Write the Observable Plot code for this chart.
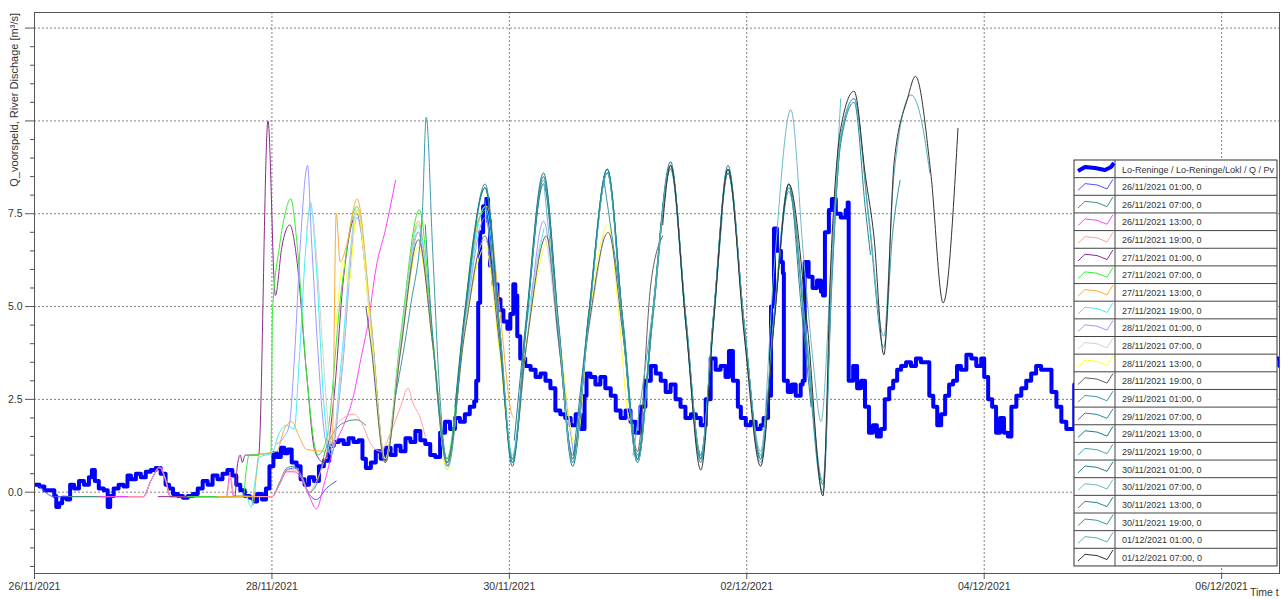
<!DOCTYPE html>
<html><head><meta charset="utf-8">
<script src="https://cdn.jsdelivr.net/npm/d3@7"></script>
<script src="https://cdn.jsdelivr.net/npm/@observablehq/plot@0.6"></script>
<style>
body{margin:0;background:#fff;}
#chart svg{display:block;}
</style></head><body><div id="chart"></div>
<script>
// time origin: 26/11/2021 00:00 ; all times below are hours after it
const T0 = Date.UTC(2021, 10, 26, 0, 0);

const obsName = "Lo-Reninge / Lo-Reninge/Lokl / Q / Pv";
const obs = [[0,0.2],[1,0.15],[2,0.05],[3,0.05],[4,-0.1],[4.4,-0.4],[5,-0.3],[5.6,-0.15],[6.5,-0.2],[7.2,0.2],[8,0.1],[9,0.3],[10,0.2],[11,0.4],[11.6,0.6],[12.2,0.3],[13,0.1],[14,0.05],[14.8,-0.4],[15.3,-0.1],[16,0.1],[17,0.2],[18,0.15],[18.8,0.45],[19.5,0.35],[20.5,0.5],[21.5,0.4],[22.5,0.55],[23.5,0.6],[24.5,0.65],[25.5,0.5],[26.5,0.2],[27.2,0.1],[28,-0.05],[29,-0.1],[30,-0.15],[31,-0.1],[32,-0.05],[33,0.1],[34,0.3],[35,0.2],[36,0.45],[37,0.35],[38,0.5],[39,0.6],[40,0.45],[40.8,0.2],[41.6,0.05],[42.5,-0.1],[43.5,-0.15],[44.3,-0.25],[45,-0.05],[46,-0.2],[46.8,0.1],[47.5,0.7],[48.3,1.05],[49,0.95],[49.8,1.2],[50.5,1.05],[51.2,1.15],[52,0.8],[53,0.7],[53.8,0.35],[54.6,0.2],[55.5,0.4],[56.5,0.3],[57.5,0.7],[58.5,0.85],[59.6,1.25],[60.5,1.35],[61.5,1.4],[62.5,1.3],[63.5,1.45],[64.5,1.35],[65.5,1.4],[66.3,0.9],[67,0.65],[68,0.8],[69,1.1],[70,0.9],[71,1.2],[72,1.0],[73,1.25],[74,1.1],[75,1.45],[76,1.35],[77,1.65],[78,1.4],[79,1.3],[80,1.0],[81,0.95],[82,1.6],[83,1.9],[84,1.7],[85,2.0],[86,1.9],[87,2.1],[88,2.3],[88.9,2.45],[89.3,3.0],[89.7,5.1],[90.1,7.0],[90.7,7.7],[91.3,7.9],[91.7,7.3],[92.1,6.1],[92.8,5.6],[93.6,5.2],[94.2,4.9],[94.8,4.6],[95.6,4.4],[96.2,4.8],[96.8,5.6],[97.2,5.3],[97.6,4.2],[98.2,3.6],[99.2,3.4],[100.3,3.3],[101.3,3.1],[102.3,3.2],[103.3,3.0],[104.3,2.8],[105.3,2.2],[106.3,2.1],[107.3,2.0],[108.4,1.8],[109.4,2.1],[110.4,1.7],[111.2,2.6],[111.6,3.2],[112.4,3.1],[113.4,2.9],[114.4,3.1],[115.4,2.8],[116.5,2.6],[117.5,2.2],[118.5,2.0],[119.5,2.2],[120.5,1.9],[121.5,1.6],[122.5,2.3],[123.5,3.0],[124.6,3.4],[125.6,3.2],[126.6,3.0],[127.6,2.7],[128.6,2.9],[129.6,2.5],[130.6,2.3],[131.6,2.0],[132.7,2.1],[133.7,2.0],[134.7,1.8],[135.7,2.5],[136.7,3.6],[137.7,3.3],[138.7,3.4],[139.7,3.1],[140.4,3.8],[141.2,3.0],[142.2,2.3],[142.8,2.0],[143.8,1.8],[144.8,1.9],[145.8,1.7],[146.8,1.8],[147.4,2.0],[148.3,2.6],[148.9,5.0],[149.5,7.1],[150.1,6.5],[150.9,6.2],[151.3,5.9],[151.5,3.0],[152.3,2.7],[153.1,2.9],[153.9,2.6],[154.9,2.9],[155.3,3.0],[155.7,6.2],[156.5,5.8],[157.3,5.5],[158.2,5.7],[159.0,5.4],[159.4,5.3],[159.8,7.0],[160.6,7.6],[161.2,7.9],[162.0,7.5],[163.0,7.4],[164.0,7.6],[164.4,7.8],[164.6,3.0],[165.5,3.4],[166.3,2.8],[167.1,3.0],[167.9,2.3],[168.7,1.6],[169.5,1.8],[170.3,1.5],[171.1,1.7],[171.9,2.5],[172.8,2.8],[173.6,3.0],[174.4,3.3],[175.2,3.4],[176.2,3.5],[177.2,3.4],[178.2,3.6],[179.2,3.5],[180.0,3.5],[180.9,2.6],[181.7,2.3],[182.5,1.8],[183.3,2.1],[184.1,2.6],[184.9,2.9],[185.7,3.0],[186.5,3.4],[187.3,3.3],[188.4,3.7],[189.4,3.6],[190.4,3.4],[191.4,3.6],[192.0,3.1],[192.8,2.5],[193.6,2.3],[194.4,1.6],[195.2,2.0],[196.0,1.6],[196.8,1.5],[197.5,2.3],[198.5,2.6],[199.5,2.8],[200.5,3.0],[201.5,3.2],[202.5,3.4],[203.5,3.3],[204.6,3.3],[205.6,2.7],[206.6,2.3],[207.6,1.9],[208.6,1.7],[209.4,1.7],[210.2,2.9],[211,3.0],[214,3.2],[218,3.1],[222,2.4],[226,2.0],[230,2.6],[234,3.2],[238,3.4],[242,2.8],[246,2.3],[249,2.9],[250.5,3.6],[251.7,3.4]];

const seriesNames = ["26/11/2021 01:00, 0","26/11/2021 07:00, 0","26/11/2021 13:00, 0","26/11/2021 19:00, 0","27/11/2021 01:00, 0","27/11/2021 07:00, 0","27/11/2021 13:00, 0","27/11/2021 19:00, 0","28/11/2021 01:00, 0","28/11/2021 07:00, 0","28/11/2021 13:00, 0","28/11/2021 19:00, 0","29/11/2021 01:00, 0","29/11/2021 07:00, 0","29/11/2021 13:00, 0","29/11/2021 19:00, 0","30/11/2021 01:00, 0","30/11/2021 07:00, 0","30/11/2021 13:00, 0","30/11/2021 19:00, 0","01/12/2021 01:00, 0","01/12/2021 07:00, 0"];
const seriesColors = ["#5050ff","#3a9a6a","#ff40ff","#ffa0a0","#8b2d8b","#33ee33","#ffaa33","#40f0f0","#9a9aff","#d0d0d0","#ffff33","#606060","#3a9aaa","#2a8c9c","#1c7c8c","#4ea5b3","#247f8f","#6cbac6","#1d8898","#3396a6","#5aaebb","#303030"];

const f2611_01 = [[1,0.15],[4,-0.12],[22,-0.12],[23.5,0.3],[25.3,0.65],[26.5,0.35],[27.5,-0.12],[48,-0.12],[49.5,0.2],[51,0.6],[52.5,0.65],[54,0.45],[55.5,-0.05],[57,-0.2],[59,0.1],[61,0.3]];
const f2611_07 = [[7,-0.12],[22,-0.12],[23.5,0.3],[25.3,0.68],[26.5,0.35],[27.5,-0.12],[48,-0.12],[49.5,0.25],[51,0.65],[52.5,0.7],[54,0.45],[55.5,0.0],[57,0.2],[59,1.2],[61,1.7],[63,1.9],[65,1.95],[67,1.8]];
const f2611_13 = [[13,-0.12],[22,-0.12],[23.5,0.3],[25.3,0.65],[26.5,0.3],[27.5,-0.12],[38.8,-0.12],[39.5,0.5],[40.2,-0.1],[48,-0.12],[49.5,0.2],[51,0.55],[52.5,0.55],[54,0.35],[55.5,-0.1],[57,-0.45],[58.5,0.2],[60.5,1.2],[62.5,1.8],[64.5,2.6],[66,3.6],[67.5,4.6],[69,6.0],[71,7.1],[73,8.4]];
const f2611_19 = [[19,-0.12],[22,-0.12],[23.5,0.3],[25.3,0.68],[26.5,0.35],[27.5,-0.12],[38.8,-0.12],[39.6,0.4],[40.4,-0.1],[48,-0.12],[49.5,0.2],[51,0.6],[52.5,0.6],[54,0.4],[55.5,0.0],[57,0.3],[59,1.0],[61,1.8],[62.5,2.0],[64.5,2.1],[66,1.9],[68,1.3],[70,1.1],[72,1.6],[74,2.3],[75.5,2.8],[76.5,2.4],[78,2.0],[79,1.5]];
const f2711_01 = [[25,-0.12],[40.5,-0.12],[41,0.7],[41.6,1.0],[42,0.8],[42.6,1.0],[45.3,1.0],[47.2,10.0],[48.7,5.3],[50,6.6],[51.6,7.2],[53,6.3],[55,3.2],[56.7,1.1],[58.5,0.8],[60.5,2.5],[62.5,5.8],[65.2,7.5],[68,4.5],[70.9,0.8],[74,4.0],[77.6,7.0],[80.5,4.0],[83.4,0.9],[85,1.8]];
const f2711_07 = [[31,-0.12],[42.2,-0.12],[42.8,0.6],[43.4,1.0],[47.8,1.05],[48.1,4.8],[49.5,6.6],[50.5,7.4],[51.8,7.9],[53,6.8],[55,3.2],[57.3,1.0],[59,1.4],[62,5.4],[65.2,7.7],[68,4.6],[70.9,0.9],[74,4.2],[77.8,7.6],[80.5,4.2],[83.4,0.9],[86,3.5],[89,7.0],[91,7.6]];
const f2711_13 = [[37,-0.12],[44,-0.12],[44.2,-0.35],[44.8,0.4],[45.3,1.0],[49,1.1],[50.5,1.7],[52,1.9],[53.5,1.5],[55,1.15],[59.5,1.1],[60.2,1.3],[61,7.5],[61.8,6.2],[63,6.6],[65.2,7.9],[68,4.7],[70.9,0.9],[74,4.0],[77.6,7.3],[80.5,4.0],[83.4,0.7],[87,4.8],[90.5,7.6],[91.5,7.7],[94,5.0],[96.5,2.1],[97,2.0]];
const f2711_19 = [[43,-0.12],[43.8,-0.4],[44.6,0.3],[45.5,0.95],[48,1.05],[49.5,1.6],[51,1.8],[52.5,1.7],[53.5,3.5],[54.8,6.5],[55.8,7.8],[57,6.0],[58.6,2.2],[60,1.0],[62,3.5],[65.2,7.6],[68,4.5],[70.9,0.8],[74,4.0],[77.6,7.2],[80.5,4.0],[83.4,0.6],[87,4.6],[91.1,7.7],[94,4.5],[96.6,1.0],[99.5,4.5],[103,7.1]];
const f2811_01 = [[49,1.3],[50.5,1.5],[51.5,1.8],[52.5,3.5],[53.8,6.8],[55.2,8.8],[56,6.8],[57.3,3.8],[58.7,1.5],[60,1.0],[62,3.0],[65.2,7.4],[68,4.5],[70.9,0.8],[74,3.8],[77.6,7.0],[80.5,4.0],[83.4,0.7],[87,4.5],[91.1,7.4],[94,4.2],[96.6,0.9],[99.5,4.0],[102.9,7.3],[106,4.0],[109,1.0]];
const f2811_07 = [[55,7.1],[56,7.6],[57,6.4],[58.5,3.4],[60,1.2],[62,3.2],[65.2,7.7],[68,4.5],[70.9,0.9],[74,4.0],[77.6,7.0],[80.5,4.0],[83.4,0.8],[87,4.5],[91.1,6.8],[94,4.0],[96.6,0.9],[99.5,4.0],[102.9,6.9],[106,4.0],[108.8,0.9],[111,3.4],[113.5,5.6],[115,6.9]];
const f2811_13 = [[61,4.5],[62.5,6.2],[63.5,5.6],[65.2,7.6],[68,4.3],[70.9,0.8],[74,3.8],[77.6,6.6],[80.5,4.0],[83.4,0.6],[87,4.3],[91.1,6.6],[94,3.8],[96.6,0.9],[99.5,4.0],[104,6.8],[106.5,3.8],[109.5,1.2],[112,4.5],[116,7.2],[118,5.0],[120,2.1],[121,1.8]];
const f2811_19 = [[67,5.0],[68,4.0],[70.9,0.8],[74,3.8],[77.6,6.8],[80.5,4.0],[83.4,0.8],[87,4.3],[91.1,6.9],[94,4.0],[96.6,0.9],[99.5,4.0],[103.5,6.9],[106,4.0],[108.8,1.0],[112,4.4],[116,7.0],[119,4.2],[121.9,1.1],[124.6,5.6],[127,6.9]];
const f2911_01 = [[73,2.6],[76,5.0],[78.4,7.5],[79.2,10.1],[80.5,6.5],[82,2.5],[83.6,0.7],[87,4.7],[91.1,8.2],[94,4.4],[96.6,0.8],[99.5,4.6],[102.9,8.4],[106,4.3],[108.8,0.8],[112,4.6],[115.8,8.6],[119,4.4],[121.9,0.9],[125,4.7],[128.6,8.8],[131.7,4.5],[133,2.6]];
const f2911_07 = [[79,7.2],[80.5,4.2],[83.4,0.8],[87,4.8],[91.1,8.3],[94,4.5],[96.6,0.8],[99.5,4.7],[102.9,8.5],[106,4.4],[108.8,0.8],[112,4.7],[115.8,8.7],[119,4.5],[121.9,0.8],[125,4.8],[128.6,8.8],[131.7,4.6],[134.7,0.9],[137.3,4.7],[139,7.4]];
const f2911_13 = [[85,2.3],[87,4.9],[91.1,8.2],[94,4.3],[96.6,0.7],[99.5,4.6],[102.9,8.3],[106,4.2],[108.8,0.7],[112,4.6],[115.8,8.6],[119,4.3],[121.9,0.8],[125,4.7],[128.6,8.7],[131.7,4.5],[134.7,0.8],[137.3,4.6],[140.2,8.6],[143.5,4.3],[145,2.4]];
const f2911_19 = [[91,7.9],[94,4.5],[96.6,0.9],[99.5,4.7],[102.9,8.5],[106,4.4],[108.8,0.9],[112,4.7],[115.8,8.6],[119,4.5],[121.9,0.9],[125,4.8],[128.6,8.8],[131.7,4.6],[134.7,0.9],[137.3,4.7],[140.2,8.7],[143.5,4.4],[146.8,0.8],[149.5,4.6],[151,6.8]];
const f3011_01 = [[97,1.4],[99.5,4.8],[102.9,8.6],[106,4.5],[108.8,0.9],[112,4.8],[115.8,8.7],[119,4.5],[121.9,0.9],[125,4.9],[128.6,8.9],[131.7,4.6],[134.7,1.0],[137.3,4.8],[140.2,8.8],[143.5,4.5],[146.8,0.9],[149.5,4.7],[152.5,8.3],[155,5.0],[157,2.3]];
const f3011_07 = [[103,8.3],[106,4.3],[108.8,0.8],[112,4.6],[115.8,8.6],[119,4.4],[121.9,0.8],[125,4.7],[128.6,8.8],[131.7,4.5],[134.7,0.8],[137.3,4.7],[140.2,8.7],[143.5,4.5],[146.8,1.1],[149.5,6.0],[152.9,10.3],[155.5,6.3],[157.5,3.4],[159,1.9],[161,6.0],[163,10.6]];
const f3011_13 = [[109,1.0],[112,4.7],[115.8,8.7],[119,4.5],[121.9,0.9],[125,4.8],[128.6,8.8],[131.7,4.6],[134.7,0.9],[137.3,4.8],[140.2,8.7],[143.5,4.5],[146.8,0.9],[149.5,4.6],[152.5,8.2],[156,4.2],[159.4,0.2],[161.2,5.8],[163,9.4],[165.7,10.5],[168,7.6],[169,6.4]];
const f3011_19 = [[115,8.5],[119,4.6],[121.9,1.0],[125,4.9],[128.6,8.8],[131.7,4.7],[134.7,1.0],[137.3,4.8],[140.2,8.6],[143.5,4.5],[146.8,0.9],[149.5,4.6],[152.5,8.1],[156,4.0],[159.4,0.0],[161.2,5.6],[163,9.5],[165.7,10.6],[168.7,7.3],[171.7,3.9],[173.5,7.0],[175,8.4]];
const f0112_01 = [[121,1.0],[125,4.9],[128.6,8.8],[131.7,4.7],[134.7,1.0],[137.3,4.8],[140.2,8.7],[143.5,4.5],[146.8,1.0],[149.5,4.8],[152.5,8.3],[156,4.3],[159.4,0.3],[161.2,6.0],[163,9.6],[165.7,10.6],[168.7,7.4],[171.7,4.2],[173.8,8.6],[177.2,10.7],[179,10.2],[181,8.6]];
const f0112_07 = [[127,7.2],[128.6,8.8],[131.7,4.5],[134.7,0.6],[137.3,4.6],[140.2,8.7],[143.5,4.2],[146.8,0.7],[149.5,4.5],[152.5,8.3],[156.3,4.4],[159.4,-0.1],[161,6.2],[163,9.8],[165.7,10.8],[168,8.5],[169.7,6.9],[171.7,3.7],[173.8,8.9],[176.5,10.6],[178.1,11.2],[181.2,8.6],[183.7,5.1],[186.7,9.8]];

const forecasts = [f2611_01,f2611_07,f2611_13,f2611_19,f2711_01,f2711_07,f2711_13,f2711_19,f2811_01,f2811_07,f2811_13,f2811_19,f2911_01,f2911_07,f2911_13,f2911_19,f3011_01,f3011_07,f3011_13,f3011_19,f0112_01,f0112_07];

const xTickHours = [0,48,96,144,192,240];
const xGridHours = [48,96,144,192,240];
const yMajor = [0,2.5,5,7.5,10,12.5];
const yLabelled = [0,2.5,5,7.5];
const yMinor = [-2,-1.5,-1,-0.5,0.5,1,1.5,2,3,3.5,4,4.5,5.5,6,6.5,7,8,8.5,9,9.5,10.5,11,11.5,12];
const yTitle = "Q_voorspeld, River Dischage [m³/s]";
const xTitle = "Time t";

const toDate = h => new Date(T0 + h * 3600e3);
const obsRows = obs.map(([h, v]) => ({t: toDate(h), v}));
const fcRows = [];
forecasts.forEach((arr, i) => arr.forEach(([h, v]) => fcRows.push({t: toDate(h), v, s: seriesNames[i]})));
const fmtDate = d3.utcFormat("%d/%m/%Y");

const chart = Plot.plot({
  width: 1282, height: 599,
  marginLeft: 34, marginRight: 3, marginTop: 12, marginBottom: 26,
  style: {fontFamily: "'Liberation Sans', Arial, sans-serif", fontSize: "10.5px", color: "#333", background: "#fff", overflow: "visible"},
  x: {type: "utc", domain: [toDate(0), toDate(251.7)], label: null},
  y: {domain: [-2.19, 12.92], label: null},
  color: {domain: seriesNames, range: seriesColors},
  marks: [
    Plot.gridY(yMajor, {stroke: "#808080", strokeOpacity: 1, strokeDasharray: "2,2"}),
    Plot.gridX(xGridHours.map(toDate), {stroke: "#808080", strokeOpacity: 1, strokeDasharray: "2,2"}),
    Plot.line(obsRows, {x: "t", y: "v", stroke: "#0000ff", strokeWidth: 4, strokeLinejoin: "round", curve: "step-after", clip: true}),
    Plot.line(fcRows, {x: "t", y: "v", z: "s", stroke: "s", strokeWidth: 1, curve: "monotone-x", clip: true}),
    Plot.frame({stroke: "#555"}),
    Plot.axisY(yMinor, {tickSize: 4, tickFormat: () => "", stroke: "#555", label: null}),
    Plot.axisY(yMajor, {tickSize: 9, tickPadding: 3, stroke: "#555", label: null,
      tickFormat: d => yLabelled.includes(d) ? d.toFixed(1) : ""}),
    Plot.axisX(xTickHours.map(toDate), {tickSize: 6, tickPadding: 3, stroke: "#555", label: null, tickFormat: fmtDate})
  ]
});
document.getElementById("chart").appendChild(chart);

const svg = d3.select(chart);
svg.append("text").attr("transform", "translate(18,13) rotate(-90)")
  .attr("text-anchor", "end").attr("fill", "#333").attr("font-size", 11).text(yTitle);
svg.append("text").attr("x", 1250).attr("y", 596).attr("text-anchor", "start").attr("fill", "#333").attr("font-size", 10.5).text(xTitle);

// legend
const legendNames = [obsName, ...seriesNames];
const legendColors = ["#0000ff", ...seriesColors];
const L = 1074, R = 1277, DIV = 1115, TOP = 160, RH = 17.65;
const lg = svg.append("g").attr("text-anchor", "start");
lg.append("rect").attr("x", L).attr("y", TOP).attr("width", R - L).attr("height", RH * legendNames.length)
  .attr("fill", "#fff").attr("stroke", "#333");
legendNames.forEach((n, i) => {
  const y = TOP + i * RH;
  if (i > 0) lg.append("line").attr("x1", L).attr("x2", R).attr("y1", y).attr("y2", y).attr("stroke", "#444");
  const p = i === 0
    ? `M1078,${y+11} L1085,${y+7} L1095,${y+8} L1105,${y+10} L1111,${y+7} L1114,${y+3}`
    : `M1078,${y+12.7} L1085,${y+6} L1097,${y+7.3} L1107,${y+11.3} L1113,${y+1.7}`;
  lg.append("path").attr("d", p).attr("fill", "none").attr("stroke", legendColors[i])
    .attr("stroke-width", i === 0 ? 4 : 1).attr("stroke-linejoin", "round");
  lg.append("text").attr("x", 1122).attr("y", y + 12.5).attr("text-anchor", "start").attr("font-size", 9).attr("fill", "#333").text(n);
});
lg.append("line").attr("x1", DIV).attr("x2", DIV).attr("y1", TOP).attr("y2", TOP + RH * legendNames.length).attr("stroke", "#444");
</script></body></html>
